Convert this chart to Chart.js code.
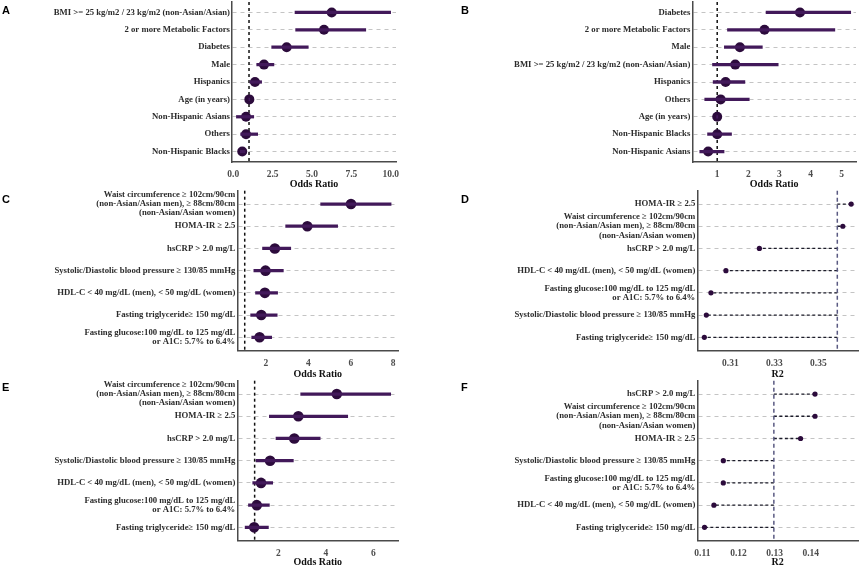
<!DOCTYPE html>
<html lang="en">
<head>
    <meta charset="UTF-8">
    <title>Odds ratios and R2 panels</title>
    <script src="https://cdn.jsdelivr.net/npm/chart.js"></script>
    <style>
        body { margin: 0; background: #fff; }
        .wrap { position: relative; width: 861px; height: 568px; overflow: hidden; }
        canvas { position: absolute; }
        .tag { position: absolute; font: bold 11px "Liberation Sans", Arial, sans-serif; color: #000; }
    </style>
</head>
<body>
<div class="wrap">
    <canvas id="pA" width="430" height="190" style="left:0;top:0"></canvas>
    <canvas id="pB" width="431" height="190" style="left:430px;top:0"></canvas>
    <canvas id="pC" width="430" height="195" style="left:0;top:185px"></canvas>
    <canvas id="pD" width="431" height="195" style="left:430px;top:185px"></canvas>
    <canvas id="pE" width="430" height="188" style="left:0;top:380px"></canvas>
    <canvas id="pF" width="431" height="188" style="left:430px;top:380px"></canvas>
    <div class="tag" style="left:2px;top:4px">A</div>
    <div class="tag" style="left:461px;top:4px">B</div>
    <div class="tag" style="left:2px;top:193px">C</div>
    <div class="tag" style="left:461px;top:193px">D</div>
    <div class="tag" style="left:2px;top:381px">E</div>
    <div class="tag" style="left:461px;top:381px">F</div>
</div>
<script>
    // labels reused across panels C-F
    const WAIST = ['Waist circumference \u2265 102cm/90cm', '(non-Asian/Asian men), \u2265 88cm/80cm', '(non-Asian/Asian women)'];
    const HOMA = 'HOMA-IR \u2265 2.5';
    const CRP = 'hsCRP > 2.0 mg/L';
    const SBP = 'Systolic/Diastolic blood pressure \u2265 130/85 mmHg';
    const HDL = 'HDL-C < 40 mg/dL (men), < 50 mg/dL (women)';
    const TG = 'Fasting triglyceride\u2265 150 mg/dL';
    const GLU = ['Fasting glucose:100 mg/dL to 125 mg/dL', 'or A1C: 5.7% to 6.4%'];

    // A
    const catsA = ['BMI >= 25 kg/m2 / 23 kg/m2 (non-Asian/Asian)', '2 or more Metabolic Factors', 'Diabetes', 'Male',
        'Hispanics', 'Age (in years)', 'Non-Hispanic Asians', 'Others', 'Non-Hispanic Blacks'];
    const orA = [6.25, 5.76, 3.39, 1.95, 1.38, 1.02, 0.81, 0.81, 0.57];
    const loA = [3.92, 3.96, 2.44, 1.49, 1.06, 0.99, 0.2, 0.47, 0.45];
    const hiA = [9.99, 8.41, 4.76, 2.58, 1.80, 1.05, 1.3, 1.55, 0.75];
    const ticksA = [0, 2.5, 5, 7.5, 10];

    // B
    const catsB = ['Diabetes', '2 or more Metabolic Factors', 'Male', 'BMI >= 25 kg/m2 / 23 kg/m2 (non-Asian/Asian)',
        'Hispanics', 'Others', 'Age (in years)', 'Non-Hispanic Blacks', 'Non-Hispanic Asians'];
    const orB = [3.66, 2.52, 1.73, 1.58, 1.27, 1.11, 1.0, 1.0, 0.71];
    const loB = [2.57, 1.33, 1.23, 0.85, 0.87, 0.6, 0.98, 0.69, 0.44];
    const hiB = [5.29, 4.78, 2.45, 2.96, 1.89, 2.03, 1.02, 1.46, 1.22];
    const ticksB = [1, 2, 3, 4, 5];

    // C
    const catsC = [WAIST, HOMA, CRP, SBP, HDL, TG, GLU];
    const orC = [6.01, 3.95, 2.42, 1.98, 1.95, 1.78, 1.70];
    const loC = [4.58, 2.93, 1.84, 1.43, 1.51, 1.28, 1.33];
    const hiC = [7.90, 5.38, 3.17, 2.82, 2.55, 2.53, 2.27];
    const ticksC = [2, 4, 6, 8];

    // D
    const catsD = [HOMA, WAIST, CRP, HDL, GLU, SBP, TG];
    const r2D = [0.3649, 0.3611, 0.3232, 0.3080, 0.3012, 0.2991, 0.2982];
    const ticksD = [0.31, 0.33, 0.35];
    const refD = 0.3586;

    // E
    const catsE = [WAIST, HOMA, CRP, SBP, HDL, GLU, TG];
    const orE = [4.46, 2.84, 2.67, 1.65, 1.27, 1.09, 0.98];
    const loE = [2.94, 1.62, 1.90, 1.06, 0.92, 0.74, 0.60];
    const hiE = [6.73, 4.92, 3.76, 2.63, 1.76, 1.62, 1.58];
    const ticksE = [2, 4, 6];

    // F
    const catsF = [CRP, WAIST, HOMA, SBP, GLU, HDL, TG];
    const r2F = [0.1412, 0.1412, 0.1372, 0.1158, 0.1158, 0.1132, 0.1106];
    const ticksF = [0.11, 0.12, 0.13, 0.14];
    const refF = 0.1298;

    const DOT = '#2c0b3c';
    const BAR = '#42195a';
    const SERIF = '"Liberation Serif", "Times New Roman", serif';

    // dashed reference line (+ dashed segments to each point for the R2 panels)
    const refLine = {
        id: 'refLine',
        beforeDatasetsDraw(chart, args, o) {
            const {ctx, chartArea: a, scales: {x, y}} = chart;
            const px = x.getPixelForValue(o.value);
            ctx.save();
            if (o.points) {
                ctx.strokeStyle = '#1c1c2a';
                ctx.lineWidth = 1.3;
                ctx.setLineDash([3, 2.5]);
                o.points.forEach((v, i) => {
                    const py = y.getPixelForValue(i);
                    ctx.beginPath();
                    ctx.moveTo(px, py);
                    ctx.lineTo(x.getPixelForValue(v), py);
                    ctx.stroke();
                });
            }
            ctx.strokeStyle = o.color;
            ctx.lineWidth = o.width;
            ctx.setLineDash(o.dash);
            ctx.beginPath();
            ctx.moveTo(px, a.top);
            ctx.lineTo(px, a.bottom);
            ctx.stroke();
            ctx.restore();
        }
    };

    function panel(id, p) {
        const canvas = document.getElementById(id);
        const n = p.cats.length;
        const datasets = [];
        if (p.lo) {
            datasets.push({
                type: 'bar', indexAxis: 'y',
                data: p.lo.map((l, i) => ({x: [l, p.hi[i]], y: i})),
                backgroundColor: BAR, barThickness: 2.6
            });
        }
        datasets.push({
            type: 'scatter',
            data: p.vals.map((v, i) => ({x: v, y: i})),
            backgroundColor: DOT, borderWidth: 0,
            pointRadius: p.radius, pointHoverRadius: p.radius
        });
        new Chart(canvas, {
            data: {datasets},
            options: {
                responsive: false, animation: false, devicePixelRatio: 1,
                layout: {autoPadding: false, padding: {top: p.top, right: canvas.width - p.right, left: 0, bottom: 0}},
                plugins: {
                    legend: {display: false}, tooltip: {enabled: false},
                    refLine: {value: p.ref, color: p.refColor || '#111', width: 1.5, dash: p.refDash || [3, 3], points: p.segs}
                },
                scales: {
                    x: {
                        type: 'linear', min: p.min, max: p.max, offset: false,
                        afterBuildTicks: s => { s.ticks = p.ticks.map(v => ({value: v})); },
                        afterFit: s => { s.height = canvas.height - p.bottom; s.paddingLeft = 0; s.paddingRight = 0; },
                        grid: {display: false, drawTicks: false, offset: false},
                        border: {display: true, color: '#4a4a4a', width: 1.5},
                        ticks: {
                            autoSkip: false, maxRotation: 0, padding: 7, color: '#4d4d4d',
                            font: {family: SERIF, size: 9.5, weight: 'bold'},
                            callback: v => p.fmt(v)
                        },
                        title: {display: true, text: p.title, color: '#111', padding: 0,
                            font: {family: SERIF, size: 10, weight: 'bold', lineHeight: 1.2}}
                    },
                    y: {
                        type: 'linear', reverse: true, min: -0.6, max: n - 0.4, offset: false,
                        afterBuildTicks: s => { s.ticks = p.cats.map((c, i) => ({value: i})); },
                        afterFit: s => { s.width = p.left; s.paddingTop = 0; s.paddingBottom = 0; },
                        grid: {color: '#c4c4c4', lineWidth: 1, drawTicks: false, offset: false},
                        border: {display: true, color: '#4a4a4a', width: 1.5, dash: [4, 4]},
                        ticks: {
                            autoSkip: false, padding: 2, color: '#2b2b2b',
                            font: {family: SERIF, size: 8.7, weight: 'bold', lineHeight: 1.05},
                            callback: v => p.cats[v]
                        }
                    }
                }
            },
            plugins: [refLine]
        });
    }

    const fmt1 = v => v.toFixed(1);
    const fmt0 = v => String(v);
    const fmt2 = v => v.toFixed(2);

    panel('pA', {cats: catsA, vals: orA, lo: loA, hi: hiA, ticks: ticksA, fmt: fmt1, ref: 1, min: -0.08, max: 10.33,
        radius: 5, title: 'Odds Ratio', left: 232, right: 396, top: 2, bottom: 162});
    panel('pB', {cats: catsB, vals: orB, lo: loB, hi: hiB, ticks: ticksB, fmt: fmt0, ref: 1, min: 0.2, max: 5.46,
        radius: 5, title: 'Odds Ratio', left: 262.3, right: 426, top: 2, bottom: 162});
    panel('pC', {cats: catsC, vals: orC, lo: loC, hi: hiC, ticks: ticksC, fmt: fmt0, ref: 1, min: 0.65, max: 8.24,
        radius: 5.3, title: 'Odds Ratio', left: 237.3, right: 398.3, top: 5.7, bottom: 165.6});
    panel('pD', {cats: catsD, vals: r2D, ticks: ticksD, fmt: fmt2, ref: refD, segs: r2D, refColor: '#5a5a82', refDash: [4, 3],
        min: 0.295, max: 0.368, radius: 2.6, title: 'R2', left: 267.3, right: 428, top: 5.7, bottom: 165.6});
    panel('pE', {cats: catsE, vals: orE, lo: loE, hi: hiE, ticks: ticksE, fmt: fmt0, ref: 1, min: 0.27, max: 7.05,
        radius: 5.3, title: 'Odds Ratio', left: 237.3, right: 398.3, top: 0.7, bottom: 160.7});
    panel('pF', {cats: catsF, vals: r2F, ticks: ticksF, fmt: fmt2, ref: refF, segs: r2F, refColor: '#5a5a82', refDash: [4, 3],
        min: 0.1086, max: 0.1531, radius: 2.6, title: 'R2', left: 267.3, right: 428, top: 0.7, bottom: 160.7});
</script>
</body>
</html>
